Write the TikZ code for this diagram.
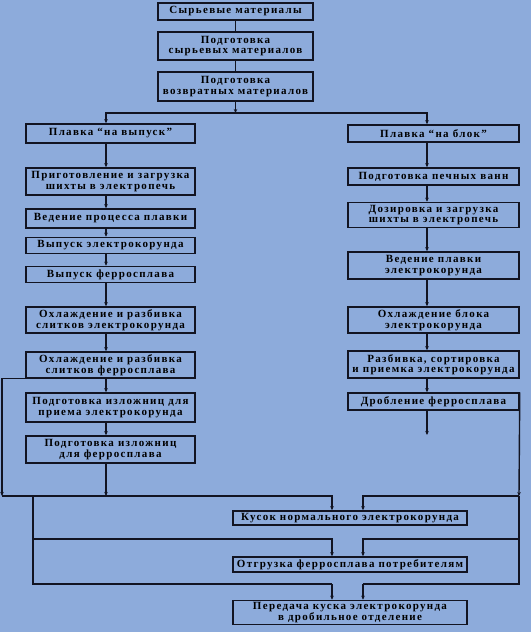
\documentclass[tikz,border=0pt]{standalone}
\usepackage{fontspec}
\setmainfont{Liberation Serif}
\usetikzlibrary{arrows.meta}
\definecolor{bgblue}{RGB}{141,171,219}
\definecolor{ink}{RGB}{18,20,34}
\begin{document}
\begin{tikzpicture}[x=1pt,y=-1pt,
  box/.style={draw=ink,line width=1.5pt,align=center,inner sep=0pt,
    font=\fontsize{11}{10.5}\selectfont\bfseries\addfontfeatures{LetterSpace=12}},
  tbox/.style={box,minimum width=155pt},
  lbox/.style={box,minimum width=169pt},
  rbox/.style={box,minimum width=171pt},
  bbox/.style={box,minimum width=234pt},
  line/.style={draw=ink,line width=1.4pt},
  arr/.style={line,-{Stealth[length=4pt,width=3.5pt]}}]
\fill[bgblue] (0,0) rectangle (531,632);
\coordinate (colL) at (106,0);
\coordinate (colR) at (427,0);
\node[tbox,minimum height=17pt] (raw) at (235.5,11.5) {Сырьевые материалы};
\node[tbox,minimum height=28pt] (prepraw) at (235.5,46) {Подготовка\\сырьевых материалов};
\node[tbox,minimum height=29pt] (prepret) at (235.5,86.5) {Подготовка\\возвратных материалов};
\coordinate (split) at (235.5,113);
\node[lbox,minimum height=19pt] (meltout) at (110.5,133.5) {Плавка “на выпуск”};
\node[lbox,minimum height=27pt] (charge) at (110.5,181.5) {Приготовление и загрузка\\шихты в электропечь};
\node[lbox,minimum height=19pt] (process) at (110.5,218.5) {Ведение процесса плавки};
\node[lbox,minimum height=16pt] (tapcor) at (110.5,245.5) {Выпуск электрокорунда};
\node[lbox,minimum height=16pt] (tapfer) at (110.5,274.5) {Выпуск ферросплава};
\node[lbox,minimum height=26pt] (coolcor) at (110.5,320) {Охлаждение и разбивка\\слитков электрокорунда};
\node[lbox,minimum height=26pt] (coolfer) at (110.5,365) {Охлаждение и разбивка\\слитков ферросплава};
\node[lbox,minimum height=29pt] (mouldcor) at (110.5,407.5) {Подготовка изложниц для\\приема электрокорунда};
\node[lbox,minimum height=27pt] (mouldfer) at (110.5,449.5) {Подготовка изложниц\\для ферросплава};
\node[rbox,minimum height=17pt] (meltblk) at (433.5,133.5) {Плавка “на блок”};
\node[rbox,minimum height=17pt] (baths) at (433.5,176.5) {Подготовка печных ванн};
\node[rbox,minimum height=25pt] (dosing) at (433.5,215) {Дозировка и загрузка\\шихты в электропечь};
\node[rbox,minimum height=27pt] (meltcor) at (433.5,265.5) {Ведение плавки\\электрокорунда};
\node[rbox,minimum height=26pt] (coolblk) at (433.5,320) {Охлаждение блока\\электрокорунда};
\node[rbox,minimum height=27pt] (sorting) at (433.5,364.5) {Разбивка, сортировка\\и приемка электрокорунда};
\node[rbox,minimum height=17pt] (crush) at (433.5,401.5) {Дробление ферросплава};
\node[bbox,minimum height=14pt] (lump) at (350,518) {Кусок нормального электрокорунда};
\node[bbox,minimum height=15pt] (ship) at (350,564.5) {Отгрузка ферросплава потребителям};
\node[bbox,minimum height=24pt] (transfer) at (350,612.5) {Передача куска электрокорунда\\в дробильное отделение};
\coordinate (endR) at (427,435);
\coordinate (farL) at (2,496);
\coordinate (trunkL) at (33,496);
\coordinate (farR) at (519,496);
\draw[line] (raw) -- (prepraw);
\draw[line] (prepraw) -- (prepret);
\draw[arr] (prepret) -- (split);
\draw[arr] (split) -| (meltout.north -| colL);
\draw[arr] (split) -| (meltblk.north -| colR);
\foreach \a/\b in {meltout/charge,charge/process,process/tapcor,tapcor/tapfer,
  tapfer/coolcor,coolcor/coolfer,coolfer/mouldcor,mouldcor/mouldfer}
  \draw[arr] (\a.south -| colL) -- (\b.north -| colL);
\foreach \a/\b in {meltblk/baths,baths/dosing,dosing/meltcor,meltcor/coolblk,
  coolblk/sorting,sorting/crush}
  \draw[arr] (\a.south -| colR) -- (\b.north -| colR);
\draw[arr] (crush.south -| colR) -- (endR);
\draw[arr] (mouldfer.south -| colL) -- (farL -| colL);
\draw[arr] (coolfer.south west) -| (farL);
\draw[arr] (farL) -| ([xshift=-18pt]lump.north);
\draw[line] (trunkL) |- ([xshift=-18pt]transfer.north |- 0,584) coordinate (c3L);
\draw[arr] (trunkL |- 0,539) -| ([xshift=-18pt]ship.north);
\draw[arr] (c3L) -- ([xshift=-18pt]transfer.north);
\draw[arr] (crush.north east) -- (farR);
\draw[line] (farR) |- ([xshift=13pt]transfer.north |- 0,584) coordinate (c3R);
\draw[arr] (farR) -| ([xshift=13pt]lump.north);
\draw[arr] (farR |- 0,539) -| ([xshift=13pt]ship.north);
\draw[arr] (c3R) -- ([xshift=13pt]transfer.north);
\end{tikzpicture}
\end{document}
